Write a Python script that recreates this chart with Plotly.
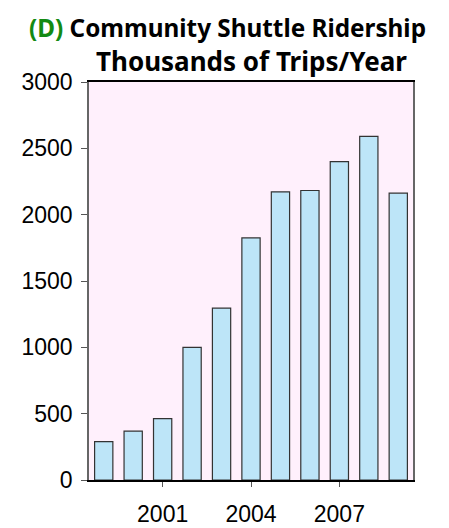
import plotly.graph_objects as go

years = [1999, 2000, 2001, 2002, 2003, 2004, 2005, 2006, 2007, 2008, 2009]
ridership = [290, 368, 462, 1000, 1295, 1825, 2172, 2182, 2400, 2590, 2162]
x_ticks = [2001, 2004, 2007]
y_ticks = [0, 500, 1000, 1500, 2000, 2500, 3000]

# page body has an 8px margin; figure sized to fill the rest of the window
W, H = 441, 520
L, R, T, B = 81, 36, 74, 48
PW, PH = W - L - R, H - T - B

fig = go.Figure()
fig.add_trace(go.Bar(
    x=years, y=ridership, width=0.62,
    marker=dict(color="#BDE5F8", line=dict(color="#333333", width=1.2)),
))

fig.update_layout(
    width=W, height=H,
    margin=dict(l=L, r=R, t=T, b=B, autoexpand=False),
    paper_bgcolor="white", plot_bgcolor="#FFF0FC",
    showlegend=False,
    font=dict(family="Liberation Sans, Arial, sans-serif", size=23, color="black"),
    annotations=[
        dict(text="<b><span style='color:#138A13'>(D)</span> Community Shuttle Ridership</b>",
             xref="paper", yref="paper", x=(227 - 89) / PW, y=1 + (82 - 27) / PH,
             xanchor="center", yanchor="middle", showarrow=False,
             font=dict(family="Noto Sans, sans-serif", size=24.3, color="black")),
        dict(text="<b>Thousands of Trips/Year</b>",
             xref="paper", yref="paper", x=(251.5 - 89) / PW, y=1 + (82 - 61) / PH,
             xanchor="center", yanchor="middle", showarrow=False,
             font=dict(family="Noto Sans, sans-serif", size=26, color="black")),
    ],
)
fig.update_xaxes(
    range=[1998.5, 2009.5], tickvals=x_ticks, ticktext=[str(t) for t in x_ticks],
    showgrid=False, zeroline=False, showline=True, linecolor="black", linewidth=1.5,
    mirror=True, ticks="outside", ticklen=5, tickcolor="#555555", automargin=False,
    ticklabelstandoff=8,
)
fig.update_yaxes(
    range=[0, 3000], tickvals=y_ticks, showgrid=False, zeroline=False,
    showline=True, linecolor="#666666", linewidth=1.5, mirror=True,
    ticks="outside", ticklen=6, tickcolor="#555555", automargin=False,
    ticklabelstandoff=4,
)
fig.write_html("out.html")
